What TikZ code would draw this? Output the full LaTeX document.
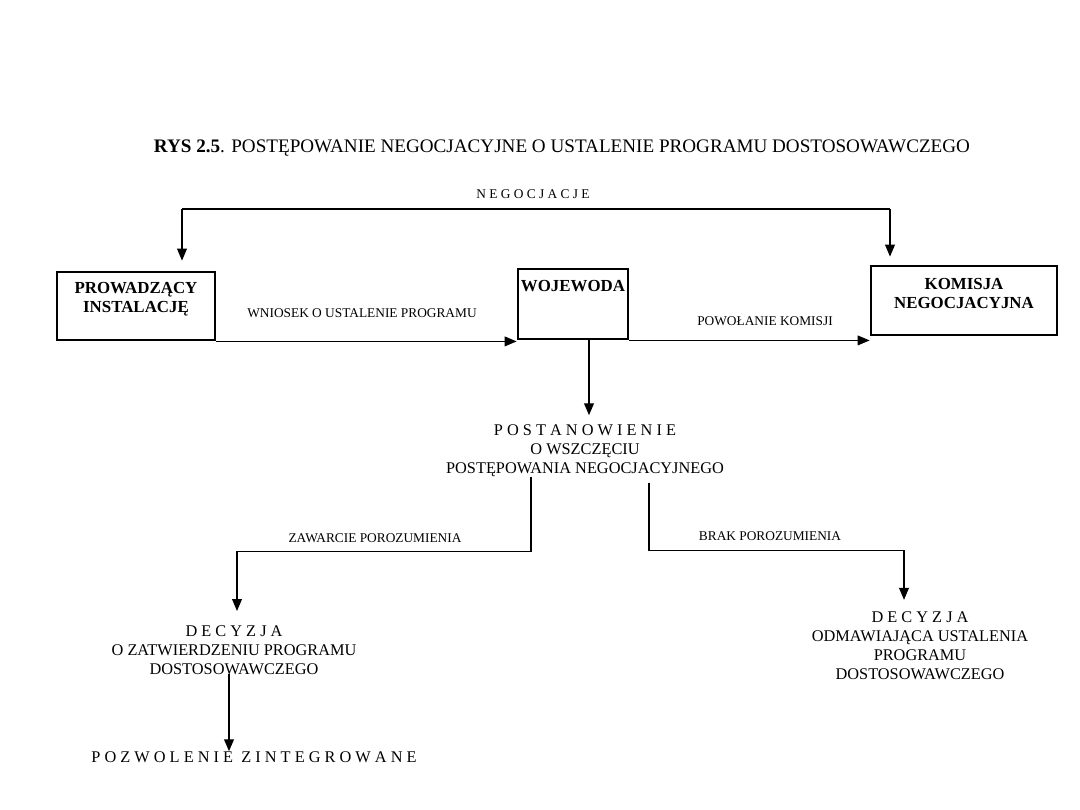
\documentclass[tikz,border=0pt]{standalone}
\usepackage{fontspec}
\setmainfont{Liberation Serif}
\usetikzlibrary{arrows.meta,positioning}

\begin{document}
\begin{tikzpicture}[
    x=0.025cm, y=-0.025cm,
    box/.style={draw, line width=2pt, inner sep=0pt},
    boxtext/.style={font=\bfseries\fontsize{12}{13.5}\selectfont, align=center, anchor=north, inner sep=0pt},
    doc/.style={font=\fontsize{11.6}{13.5}\selectfont, align=center, anchor=north, inner sep=0pt},
    lbl/.style={font=\fontsize{9.5}{11}\selectfont, inner sep=0pt},
    conn/.style={line width=0.8pt},
    arrow/.style={conn, -{Triangle[length=8.5pt, width=7pt]}}
]
\useasboundingbox (0,0) rectangle (1080,810);
\node[font=\fontsize{13.6}{16}\selectfont, inner sep=0pt] (title) at (562,148) {{\bfseries RYS 2.5}. POSTĘPOWANIE NEGOCJACYJNE O USTALENIE PROGRAMU DOSTOSOWAWCZEGO};

% boxes
\node[box, minimum width=3.95cm, minimum height=1.7cm] (prow) at (136,306) {};
\node[box, minimum width=2.75cm, minimum height=1.75cm] (woj) at (573,304) {};
\node[box, minimum width=4.65cm, minimum height=1.725cm] (kom) at (964,300.5) {};
\node[boxtext] (prowtxt) at (136,282) {PROWADZĄCY\\INSTALACJĘ};
\node[boxtext] (wojtxt) at (573,280) {WOJEWODA};
\node[boxtext] (komtxt) at (964,278) {KOMISJA\\NEGOCJACYJNA};

% negocjacje
\coordinate (negL) at (182,209);
\coordinate (negR) at (890,209);
\node[lbl] (neg) at (533,194) {N E G O C J A C J E};
\draw[conn] (negL) -- (negR);
\draw[arrow, shorten >=0.25cm] (negL) -- (negL |- prow.north);
\draw[arrow, shorten >=0.2cm] (negR) -- (negR |- kom.north);

% wniosek, powolanie
\draw[arrow] (prow.south east) -- (prow.south east -| woj.west);
\node[lbl] (wniosek) at (362,313) {WNIOSEK O USTALENIE PROGRAMU};
\draw[arrow] (woj.south east) -- (woj.south east -| kom.west);
\node[lbl] (powol) at (765,321) {POWOŁANIE KOMISJI};

% postanowienie
\node[doc] (post) at (585,424) {P O S T A N O W I E N I E\\O WSZCZĘCIU\\POSTĘPOWANIA NEGOCJACYJNEGO};
\coordinate (wojout) at (589,339);
\draw[arrow, line width=1pt, shorten >=0.22cm] (wojout) -- (wojout |- post.north);

% decyzje
\node[doc] (decL) at (234,625) {D E C Y Z J A\\O ZATWIERDZENIU PROGRAMU\\DOSTOSOWAWCZEGO};
\node[doc] (decR) at (920,611) {D E C Y Z J A\\ODMAWIAJĄCA USTALENIA\\PROGRAMU\\DOSTOSOWAWCZEGO};
\draw[arrow, shorten >=0.35cm] ([xshift=-1.35cm]post.south) -- ++(0,75) -| ([xshift=0.075cm]decL.north);
\node[lbl] (zaw) at (375,538) {ZAWARCIE POROZUMIENIA};
\draw[arrow, shorten >=0.28cm] ([xshift=1.6cm, yshift=-0.15cm]post.south) -- ++(0,68) -| ([xshift=-0.4cm]decR.north);
\node[lbl] (brak) at (770,536) {BRAK POROZUMIENIA};

% pozwolenie
\node[doc, anchor=center] (pozw) at (254,757) {P O Z W O L E N I E \ Z I N T E G R O W A N E};
\coordinate (decout) at (229,674);
\draw[arrow, line width=1pt] (decout) -- (decout |- pozw.north);
\end{tikzpicture}
\end{document}
